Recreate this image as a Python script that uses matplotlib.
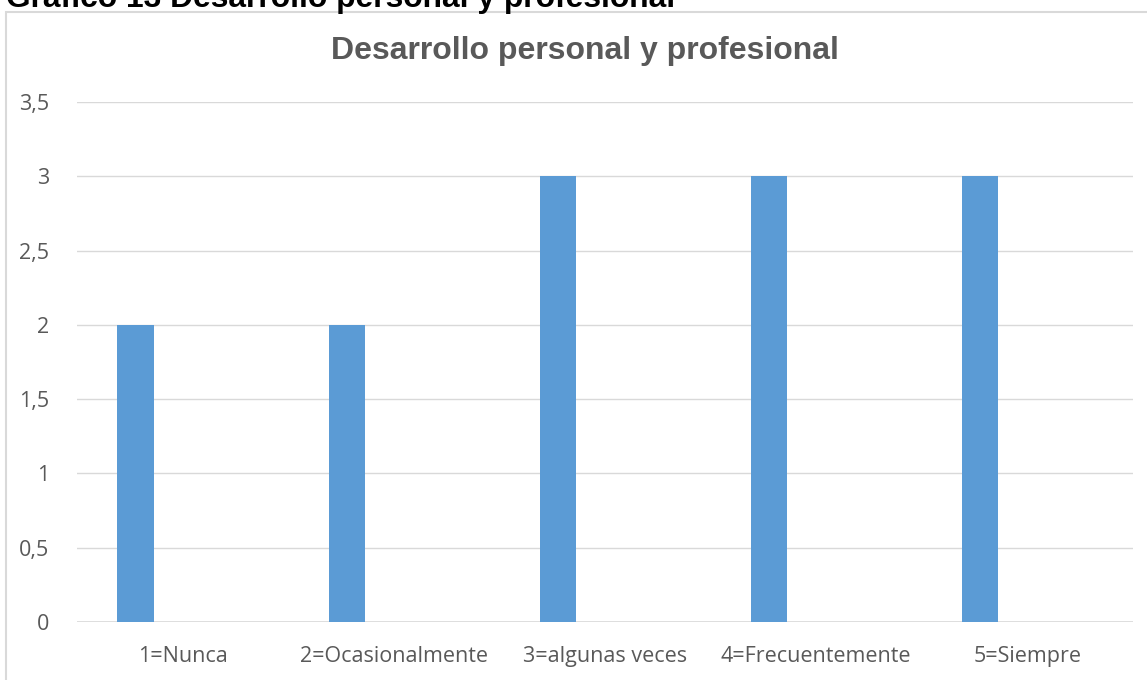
import matplotlib.pyplot as plt
import numpy as np
from matplotlib.patches import Rectangle

# data
categorias = ["1=Nunca", "2=Ocasionalmente", "3=algunas veces", "4=Frecuentemente", "5=Siempre"]
valores = [2, 2, 3, 3, 3]
yticks = [0, 0.5, 1, 1.5, 2, 2.5, 3, 3.5]
ytick_labels = ["0", "0,5", "1", "1,5", "2", "2,5", "3", "3,5"]

gris = "#595959"
azul = "#5b9bd5"

fig = plt.figure(figsize=(11.47, 6.8), dpi=100)

# outer chart frame (top-left part visible only)
fig.patches.append(Rectangle((6 / 1147, -0.1), 1.2, (680 - 12) / 680 + 0.1,
                             transform=fig.transFigure, fill=False,
                             edgecolor="#d9d9d9", linewidth=1.5))

# document caption, cut off at the top
fig.text(6 / 1147, 1 - 7 / 680, "Gráfico 13 Desarrollo personal y profesional",
         fontsize=22.9, fontweight="bold", family="Liberation Sans",
         ha="left", va="baseline", color="black")

ax = fig.add_axes([77 / 1147, 58 / 680, (1133 - 77) / 1147, 520 / 680])
x = np.arange(len(categorias))
ax.bar(x - 0.223, valores, width=0.171, color=azul, zorder=3)

ax.set_xlim(-0.5, len(categorias) - 0.5)
ax.set_ylim(0, 3.5)
ax.set_yticks(yticks)
ax.set_yticklabels(ytick_labels)
ax.set_xticks(x)
ax.set_xticklabels(categorias)
ax.tick_params(length=0, labelsize=15.5, labelcolor=gris)
ax.tick_params(axis="x", pad=17)
ax.tick_params(axis="y", pad=20)
for lab in ax.get_xticklabels() + ax.get_yticklabels():
    lab.set_family("Open Sans")

ax.grid(axis="y", color="#d9d9d9", linewidth=1, zorder=0)
for s in ax.spines.values():
    s.set_visible(False)
ax.axhline(0, color="#d9d9d9", linewidth=1.2, zorder=2)

fig.text(585 / 1147, 1 - 51 / 680, "Desarrollo personal y profesional",
         fontsize=23, fontweight="bold", family="Liberation Sans",
         ha="center", va="center", color=gris)

fig.savefig("out.png", dpi=100)
